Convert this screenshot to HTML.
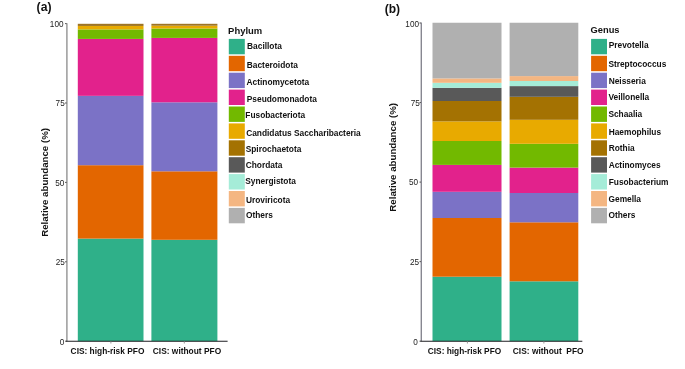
<!DOCTYPE html>
<html><head><meta charset="utf-8"><style>
html,body{margin:0;padding:0;background:#fff;}
body{width:685px;height:369px;overflow:hidden;}
svg{display:block;filter:blur(0.35px);font-family:"Liberation Sans",sans-serif;}
</style></head><body>
<svg width="685" height="369" viewBox="0 0 685 369">
<rect width="685" height="369" fill="#fff"/>
<text x="36.60" y="10.90" font-size="12.2" font-weight="bold" text-anchor="start" fill="#111111">(a)</text>
<rect x="77.80" y="238.60" width="65.70" height="102.60" fill="#2fb089"/>
<rect x="77.80" y="165.20" width="65.70" height="73.40" fill="#e36600"/>
<rect x="77.80" y="95.85" width="65.70" height="69.35" fill="#7b72c6"/>
<rect x="77.80" y="38.90" width="65.70" height="56.95" fill="#e2228c"/>
<rect x="77.80" y="29.40" width="65.70" height="9.50" fill="#72b900"/>
<rect x="77.80" y="25.95" width="65.70" height="3.45" fill="#e8aa00"/>
<rect x="77.80" y="23.80" width="65.70" height="2.15" fill="#9d7424"/>
<rect x="151.40" y="239.80" width="66.00" height="101.40" fill="#2fb089"/>
<rect x="151.40" y="171.30" width="66.00" height="68.50" fill="#e36600"/>
<rect x="151.40" y="102.30" width="66.00" height="69.00" fill="#7b72c6"/>
<rect x="151.40" y="37.90" width="66.00" height="64.40" fill="#e2228c"/>
<rect x="151.40" y="28.50" width="66.00" height="9.40" fill="#72b900"/>
<rect x="151.40" y="25.70" width="66.00" height="2.80" fill="#e8aa00"/>
<rect x="151.40" y="23.80" width="66.00" height="1.90" fill="#9d7424"/>
<line x1="66.9" y1="23.2" x2="66.9" y2="341.2" stroke="#939393" stroke-width="1.4"/>
<line x1="66" y1="341.25" x2="227.6" y2="341.25" stroke="#1e1e22" stroke-width="1.05"/>
<line x1="65.2" y1="23.60" x2="66.5" y2="23.60" stroke="#333" stroke-width="1"/>
<line x1="65.2" y1="103.00" x2="66.5" y2="103.00" stroke="#333" stroke-width="1"/>
<line x1="65.2" y1="182.40" x2="66.5" y2="182.40" stroke="#333" stroke-width="1"/>
<line x1="65.2" y1="261.80" x2="66.5" y2="261.80" stroke="#333" stroke-width="1"/>
<line x1="65.2" y1="341.20" x2="66.5" y2="341.20" stroke="#333" stroke-width="1"/>
<line x1="110.9" y1="341.5" x2="110.9" y2="343.5" stroke="#999" stroke-width="1"/>
<line x1="184.3" y1="341.5" x2="184.3" y2="343.5" stroke="#999" stroke-width="1"/>
<text x="63.50" y="27.10" font-size="8.2" font-weight="normal" text-anchor="end" fill="#222">100</text>
<text x="64.70" y="106.00" font-size="8.2" font-weight="normal" text-anchor="end" fill="#222">75</text>
<text x="64.30" y="186.30" font-size="8.2" font-weight="normal" text-anchor="end" fill="#222">50</text>
<text x="64.80" y="264.80" font-size="8.2" font-weight="normal" text-anchor="end" fill="#222">25</text>
<text x="64.30" y="344.90" font-size="8.2" font-weight="normal" text-anchor="end" fill="#222">0</text>
<text transform="translate(47.9,182.4) rotate(-90)" x="0" y="0" font-size="9.7" font-weight="bold" text-anchor="middle" fill="#111111">Relative abundance (%)</text>
<text x="70.60" y="353.50" font-size="8.35" font-weight="bold" text-anchor="start" fill="#111111" textLength="73.80" lengthAdjust="spacingAndGlyphs">CIS: high-risk PFO</text>
<text x="152.80" y="353.50" font-size="8.35" font-weight="bold" text-anchor="start" fill="#111111" textLength="68.40" lengthAdjust="spacingAndGlyphs">CIS: without PFO</text>
<text x="228.10" y="33.50" font-size="9.45" font-weight="bold" text-anchor="start" fill="#111111">Phylum</text>
<rect x="228.80" y="38.90" width="16.00" height="15.40" fill="#2fb089"/>
<rect x="228.80" y="55.80" width="16.00" height="15.40" fill="#e36600"/>
<rect x="228.80" y="72.70" width="16.00" height="15.40" fill="#7b72c6"/>
<rect x="228.80" y="89.60" width="16.00" height="15.40" fill="#e2228c"/>
<rect x="228.80" y="106.50" width="16.00" height="15.40" fill="#72b900"/>
<rect x="228.80" y="123.40" width="16.00" height="15.40" fill="#e8aa00"/>
<rect x="228.80" y="140.30" width="16.00" height="15.40" fill="#a47202"/>
<rect x="228.80" y="157.20" width="16.00" height="15.40" fill="#595959"/>
<rect x="228.80" y="174.10" width="16.00" height="15.40" fill="#a5ecd8"/>
<rect x="228.80" y="191.00" width="16.00" height="15.40" fill="#f4b682"/>
<rect x="228.80" y="207.90" width="16.00" height="15.40" fill="#b0b0b0"/>
<text x="247.10" y="48.70" font-size="8.35" font-weight="bold" text-anchor="start" fill="#111111">Bacillota</text>
<text x="246.80" y="67.70" font-size="8.35" font-weight="bold" text-anchor="start" fill="#111111">Bacteroidota</text>
<text x="246.60" y="84.60" font-size="8.35" font-weight="bold" text-anchor="start" fill="#111111">Actinomycetota</text>
<text x="246.80" y="101.90" font-size="8.35" font-weight="bold" text-anchor="start" fill="#111111">Pseudomonadota</text>
<text x="245.30" y="118.40" font-size="8.35" font-weight="bold" text-anchor="start" fill="#111111">Fusobacteriota</text>
<text x="246.20" y="135.80" font-size="8.35" font-weight="bold" text-anchor="start" fill="#111111">Candidatus Saccharibacteria</text>
<text x="245.70" y="152.20" font-size="8.35" font-weight="bold" text-anchor="start" fill="#111111">Spirochaetota</text>
<text x="245.70" y="168.00" font-size="8.35" font-weight="bold" text-anchor="start" fill="#111111">Chordata</text>
<text x="245.30" y="184.40" font-size="8.35" font-weight="bold" text-anchor="start" fill="#111111">Synergistota</text>
<text x="246.00" y="202.80" font-size="8.35" font-weight="bold" text-anchor="start" fill="#111111">Uroviricota</text>
<text x="246.00" y="217.90" font-size="8.35" font-weight="bold" text-anchor="start" fill="#111111">Others</text>
<text x="384.80" y="13.40" font-size="12.0" font-weight="bold" text-anchor="start" fill="#111111">(b)</text>
<rect x="432.50" y="276.70" width="69.00" height="64.50" fill="#2fb089"/>
<rect x="432.50" y="218.00" width="69.00" height="58.70" fill="#e36600"/>
<rect x="432.50" y="191.80" width="69.00" height="26.20" fill="#7b72c6"/>
<rect x="432.50" y="164.90" width="69.00" height="26.90" fill="#e2228c"/>
<rect x="432.50" y="141.00" width="69.00" height="23.90" fill="#72b900"/>
<rect x="432.50" y="121.40" width="69.00" height="19.60" fill="#e8aa00"/>
<rect x="432.50" y="101.00" width="69.00" height="20.40" fill="#a47202"/>
<rect x="432.50" y="87.80" width="69.00" height="13.20" fill="#595959"/>
<rect x="432.50" y="82.80" width="69.00" height="5.00" fill="#a5ecd8"/>
<rect x="432.50" y="78.40" width="69.00" height="4.40" fill="#f4b682"/>
<rect x="432.50" y="22.75" width="69.00" height="55.65" fill="#b0b0b0"/>
<rect x="509.60" y="281.30" width="68.70" height="59.90" fill="#2fb089"/>
<rect x="509.60" y="222.30" width="68.70" height="59.00" fill="#e36600"/>
<rect x="509.60" y="193.00" width="68.70" height="29.30" fill="#7b72c6"/>
<rect x="509.60" y="167.60" width="68.70" height="25.40" fill="#e2228c"/>
<rect x="509.60" y="143.80" width="68.70" height="23.80" fill="#72b900"/>
<rect x="509.60" y="119.80" width="68.70" height="24.00" fill="#e8aa00"/>
<rect x="509.60" y="96.80" width="68.70" height="23.00" fill="#a47202"/>
<rect x="509.60" y="86.10" width="68.70" height="10.70" fill="#595959"/>
<rect x="509.60" y="81.00" width="68.70" height="5.10" fill="#a5ecd8"/>
<rect x="509.60" y="76.10" width="68.70" height="4.90" fill="#f4b682"/>
<rect x="509.60" y="22.75" width="68.70" height="53.35" fill="#b0b0b0"/>
<line x1="421.3" y1="22.6" x2="421.3" y2="341.2" stroke="#878791" stroke-width="1.4"/>
<line x1="420.5" y1="341.25" x2="582.3" y2="341.25" stroke="#1e1e22" stroke-width="1.05"/>
<line x1="419.6" y1="23.00" x2="420.8" y2="23.00" stroke="#333" stroke-width="1"/>
<line x1="419.6" y1="102.55" x2="420.8" y2="102.55" stroke="#333" stroke-width="1"/>
<line x1="419.6" y1="182.10" x2="420.8" y2="182.10" stroke="#333" stroke-width="1"/>
<line x1="419.6" y1="261.65" x2="420.8" y2="261.65" stroke="#333" stroke-width="1"/>
<line x1="419.6" y1="341.20" x2="420.8" y2="341.20" stroke="#333" stroke-width="1"/>
<line x1="467.4" y1="341.5" x2="467.4" y2="343.5" stroke="#999" stroke-width="1"/>
<line x1="543.9" y1="341.5" x2="543.9" y2="343.5" stroke="#999" stroke-width="1"/>
<text x="419.00" y="27.40" font-size="8.2" font-weight="normal" text-anchor="end" fill="#222">100</text>
<text x="419.80" y="106.45" font-size="8.2" font-weight="normal" text-anchor="end" fill="#222">75</text>
<text x="418.10" y="185.10" font-size="8.2" font-weight="normal" text-anchor="end" fill="#222">50</text>
<text x="419.00" y="264.65" font-size="8.2" font-weight="normal" text-anchor="end" fill="#222">25</text>
<text x="417.80" y="344.60" font-size="8.2" font-weight="normal" text-anchor="end" fill="#222">0</text>
<text transform="translate(396.1,157.3) rotate(-90)" x="0" y="0" font-size="9.7" font-weight="bold" text-anchor="middle" fill="#111111">Relative abundance (%)</text>
<text x="427.80" y="353.70" font-size="8.35" font-weight="bold" text-anchor="start" fill="#111111" textLength="73.40" lengthAdjust="spacingAndGlyphs">CIS: high-risk PFO</text>
<text x="512.8" y="353.7" font-size="8.35" font-weight="bold" fill="#111111" xml:space="preserve" textLength="70.8" lengthAdjust="spacingAndGlyphs">CIS: without  PFO</text>
<text x="590.60" y="32.80" font-size="9.3" font-weight="bold" text-anchor="start" fill="#111111">Genus</text>
<rect x="591.10" y="38.90" width="15.90" height="15.40" fill="#2fb089"/>
<rect x="591.10" y="55.80" width="15.90" height="15.40" fill="#e36600"/>
<rect x="591.10" y="72.70" width="15.90" height="15.40" fill="#7b72c6"/>
<rect x="591.10" y="89.60" width="15.90" height="15.40" fill="#e2228c"/>
<rect x="591.10" y="106.50" width="15.90" height="15.40" fill="#72b900"/>
<rect x="591.10" y="123.40" width="15.90" height="15.40" fill="#e8aa00"/>
<rect x="591.10" y="140.30" width="15.90" height="15.40" fill="#a47202"/>
<rect x="591.10" y="157.20" width="15.90" height="15.40" fill="#595959"/>
<rect x="591.10" y="174.10" width="15.90" height="15.40" fill="#a5ecd8"/>
<rect x="591.10" y="191.00" width="15.90" height="15.40" fill="#f4b682"/>
<rect x="591.10" y="207.90" width="15.90" height="15.40" fill="#b0b0b0"/>
<text x="608.70" y="47.90" font-size="8.35" font-weight="bold" text-anchor="start" fill="#111111">Prevotella</text>
<text x="608.40" y="66.50" font-size="8.35" font-weight="bold" text-anchor="start" fill="#111111">Streptococcus</text>
<text x="608.70" y="83.70" font-size="8.35" font-weight="bold" text-anchor="start" fill="#111111">Neisseria</text>
<text x="608.40" y="100.40" font-size="8.35" font-weight="bold" text-anchor="start" fill="#111111">Veillonella</text>
<text x="608.40" y="117.30" font-size="8.35" font-weight="bold" text-anchor="start" fill="#111111">Schaalia</text>
<text x="608.70" y="134.60" font-size="8.35" font-weight="bold" text-anchor="start" fill="#111111">Haemophilus</text>
<text x="608.70" y="151.20" font-size="8.35" font-weight="bold" text-anchor="start" fill="#111111">Rothia</text>
<text x="608.70" y="167.60" font-size="8.35" font-weight="bold" text-anchor="start" fill="#111111">Actinomyces</text>
<text x="608.70" y="184.70" font-size="8.35" font-weight="bold" text-anchor="start" fill="#111111">Fusobacterium</text>
<text x="608.50" y="201.90" font-size="8.35" font-weight="bold" text-anchor="start" fill="#111111">Gemella</text>
<text x="608.50" y="217.90" font-size="8.35" font-weight="bold" text-anchor="start" fill="#111111">Others</text>
</svg>
</body></html>
